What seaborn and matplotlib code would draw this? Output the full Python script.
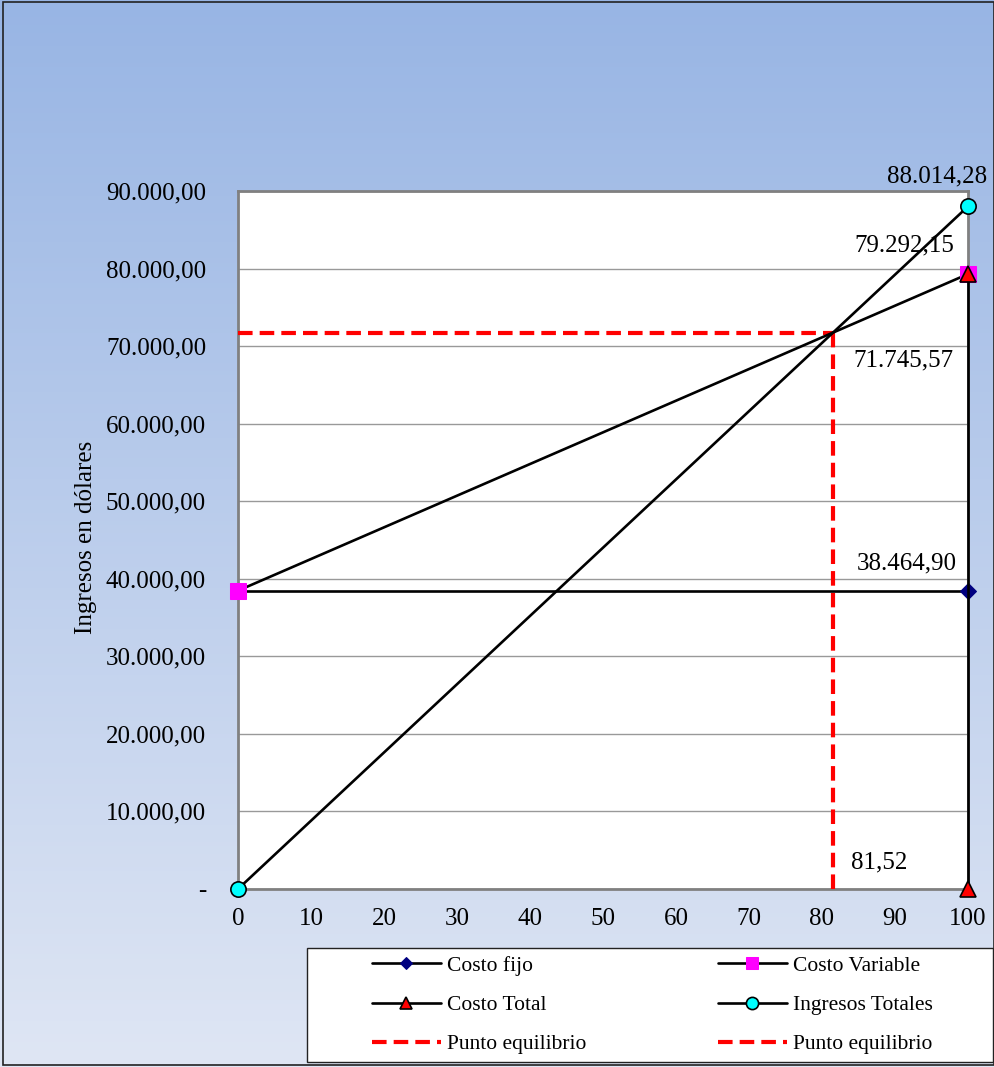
import numpy as np
import pandas as pd
import matplotlib
matplotlib.use("Agg")
import matplotlib.pyplot as plt
from matplotlib.patches import Rectangle
import seaborn as sns

# Series values (units vs dollars)
costo_fijo_x = [0, 100]
costo_fijo_y = [38464.90, 38464.90]
costo_var_x = [0, 100]
costo_var_y = [38464.90, 79292.15]
costo_total_x = [100, 100]
costo_total_y = [0, 79292.15]
ingresos_x = [0, 100]
ingresos_y = [0, 88014.28]
equilibrio_q = 81.52
equilibrio_v = 71745.57
pe_h_x = [0, equilibrio_q]
pe_h_y = [equilibrio_v, equilibrio_v]
pe_v_x = [equilibrio_q, equilibrio_q]
pe_v_y = [0, equilibrio_v]

x_ticks = list(range(0, 101, 10))
y_ticks = list(range(0, 90001, 10000))
y_tick_labels = ["-", "10.000,00", "20.000,00", "30.000,00", "40.000,00",
                 "50.000,00", "60.000,00", "70.000,00", "80.000,00", "90.000,00"]

sns.set_style("white")
plt.rcParams["font.family"] = ["Liberation Serif", "DejaVu Serif"]
plt.rcParams["text.color"] = "black"
plt.rcParams["axes.labelcolor"] = "black"
plt.rcParams["xtick.labelcolor"] = "black"
plt.rcParams["ytick.labelcolor"] = "black"

W, H = 995, 1067
fig = plt.figure(figsize=(W / 100, H / 100), dpi=100)

# gradient backdrop
bg = fig.add_axes([0, 0, 1, 1], zorder=-10)
top = np.array([152, 181, 228]) / 255
bot = np.array([223, 230, 244]) / 255
t = np.linspace(0, 1, 256)[:, None]
grad = top[None, :] * (1 - t) + bot[None, :] * t
bg.imshow(grad[:, None, :], aspect="auto", extent=[0, 1, 0, 1])
bg.set_axis_off()
fig.patches.append(Rectangle((0.003, 0.002), 0.996, 0.996, transform=fig.transFigure,
                             fill=False, edgecolor="#222222", lw=1.2))

ax = fig.add_axes([238 / W, 1 - 889 / H, 730 / W, 698 / H])
ax.set_facecolor("white")

lw = 1.9
common = dict(ax=ax, estimator=None, sort=False, color="black", lw=lw, clip_on=False)
sns.lineplot(x=costo_fijo_x, y=costo_fijo_y, marker="D", markersize=8,
             markerfacecolor="#000080", markeredgecolor="#000080",
             label="Costo fijo", zorder=4, **common)
sns.lineplot(x=costo_var_x, y=costo_var_y, marker="s", markersize=11,
             markerfacecolor="#ff00ff", markeredgecolor="#ff00ff",
             label="Costo Variable", zorder=5, **common)
sns.lineplot(x=costo_total_x, y=costo_total_y, marker="^", markersize=11,
             markerfacecolor="#ff0000", markeredgecolor="black", markeredgewidth=1.2,
             label="Costo Total", zorder=6, **common)
sns.lineplot(x=ingresos_x, y=ingresos_y, marker="o", markersize=11,
             markerfacecolor="#00ffff", markeredgecolor="black", markeredgewidth=1.2,
             label="Ingresos Totales", zorder=6, **common)
dash = dict(ax=ax, estimator=None, sort=False, color="#ff0000", lw=3.0)
sns.lineplot(x=pe_h_x, y=pe_h_y, label="Punto equilibrio", zorder=3, **dash)
sns.lineplot(x=pe_v_x, y=pe_v_y, label="Punto equilibrio", zorder=3, **dash)
for ln in ax.lines[-2:]:
    ln.set_dashes([3.5, 1.7])

ax.set_xlim(0, 100)
ax.set_ylim(0, 90000)
ax.set_xticks(x_ticks)
ax.set_xticklabels([str(v) for v in x_ticks], fontsize=18)
ax.set_yticks(y_ticks)
ax.set_yticklabels(y_tick_labels, fontsize=18)
ax.yaxis.grid(True, color="#999999", lw=1)
ax.xaxis.grid(False)
ax.tick_params(axis="x", direction="out", length=4, width=1.2, color="#808080", pad=10)
ax.tick_params(axis="y", direction="out", length=4, width=1.2, color="#333333", pad=19)
for s in ax.spines.values():
    s.set_color("#808080")
    s.set_linewidth(2)
ax.set_ylabel("Ingresos en dólares", fontsize=18, color="black")
ax.yaxis.set_label_coords((97 - 238) / 730, 0.504)

# value labels
lab = dict(fontsize=18, color="black", ha="center", va="center",
           textcoords="offset points", annotation_clip=False)
px = 0.72
ax.annotate("88.014,28", (100, ingresos_y[1]), xytext=(-31 * px, 30 * px), **lab)
ax.annotate("79.292,15", (100, costo_var_y[1]), xytext=(-64 * px, 29 * px), **lab)
ax.annotate("71.745,57", (equilibrio_q, equilibrio_v), xytext=(70 * px, -28 * px), **lab)
ax.annotate("38.464,90", (100, costo_fijo_y[1]), xytext=(-61 * px, 27 * px), **lab)
ax.annotate("81,52", (equilibrio_q, 0), xytext=(46 * px, 27 * px), **lab)

handles, labels = ax.get_legend_handles_labels()
ax.get_legend().remove()

# legend frame and two columns of entries
fig.patches.append(Rectangle((307 / W, 1 - 1062 / H), 686 / W, 114 / H,
                             transform=fig.transFigure, facecolor="white",
                             edgecolor="#222222", lw=1.0, zorder=1))
leg_kw = dict(loc="center left", frameon=False, fontsize=15.5, handlelength=3.2,
              handletextpad=0.3, labelspacing=0.88, borderpad=0, borderaxespad=0,
              markerscale=0.8, labelcolor="black")
fig.legend([handles[i] for i in (0, 2, 4)], [labels[i] for i in (0, 2, 4)],
           bbox_to_anchor=(372 / W, 1 - 1005 / H), **leg_kw)
fig.legend([handles[i] for i in (1, 3, 5)], [labels[i] for i in (1, 3, 5)],
           bbox_to_anchor=(718 / W, 1 - 1005 / H), **leg_kw)

fig.savefig("out.png", dpi=100)
